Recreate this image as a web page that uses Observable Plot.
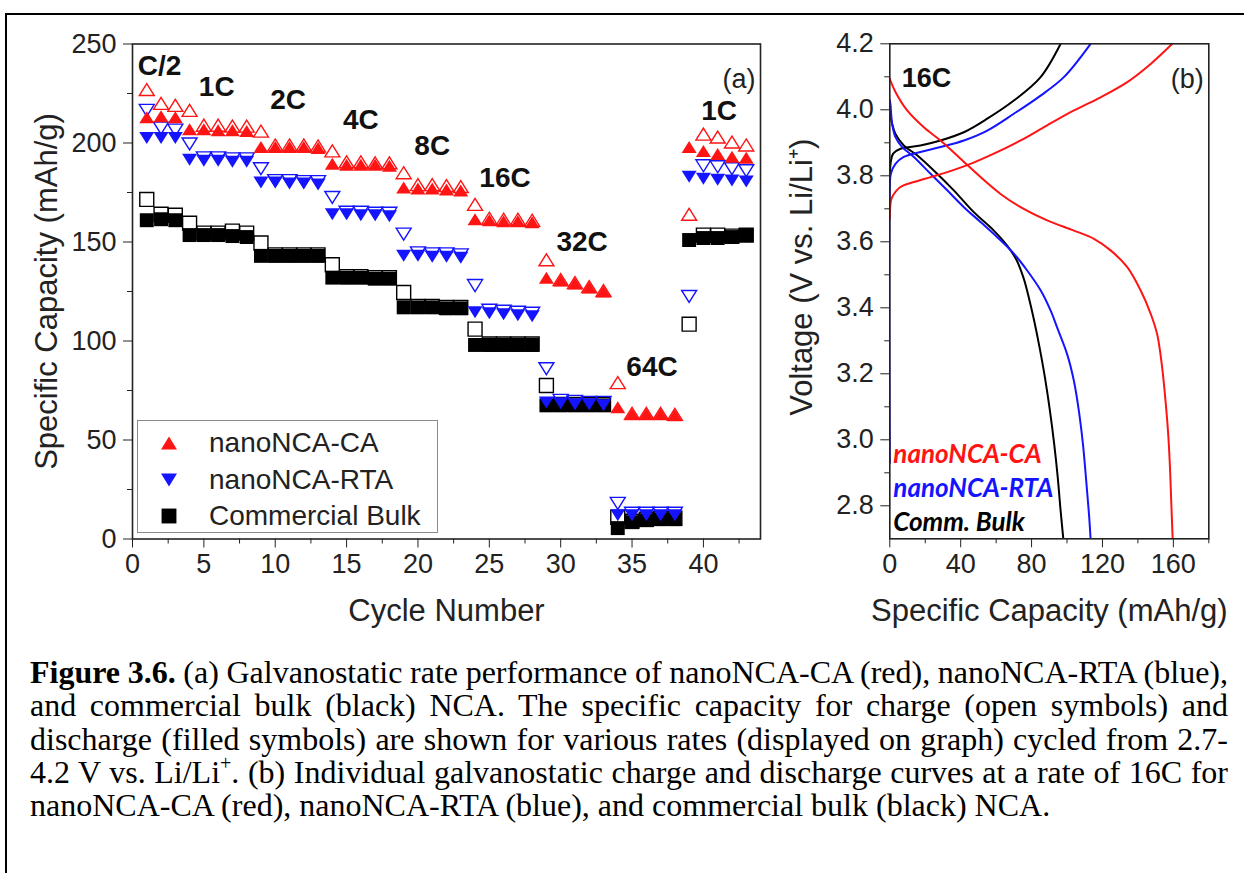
<!DOCTYPE html>
<html>
<head>
<meta charset="utf-8">
<script src="https://cdn.jsdelivr.net/npm/d3@7"></script>
<script src="https://cdn.jsdelivr.net/npm/@observablehq/plot@0.6"></script>
<style>
  html, body { margin: 0; padding: 0; background: #fff; }
  body { width: 1244px; height: 873px; position: relative; overflow: hidden;
         font-family: "Liberation Sans", Arial, sans-serif; }
  #border { position: absolute; left: 5px; top: 13px; right: -10px; bottom: -10px;
            border-top: 2px solid #000; border-left: 2px solid #000; }
  #panelA { position: absolute; left: 0; top: 0; }
  #panelB { position: absolute; left: 780px; top: 0; }
  #legend { position: absolute; left: 137px; top: 420px; width: 301px; height: 113px;
            border: 1.5px solid #8a8a8a; box-sizing: border-box; background: #fff; }
  #legend .row { position: absolute; left: 0; height: 30px; }
  #legend svg { position: absolute; left: 20px; top: 5px; }
  #legend span { position: absolute; left: 71px; top: 0; font-size: 28px; line-height: 30px;
                 color: #222; white-space: nowrap; }
  #caption { position: absolute; left: 30px; top: 656px; width: 1198px;
             font-family: "Liberation Serif", "Times New Roman", serif; font-size: 32px;
             line-height: 33.3px; color: #000; }
  #caption div { height: 33.3px; white-space: nowrap; }
  #caption .jl { display: inline-block; white-space: nowrap; }
  #caption sup { font-size: 20px; line-height: 0; position: relative; top: -13px; vertical-align: baseline; }
</style>
</head>
<body>
<div id="border"></div>
<div id="panelA"></div>
<div id="panelB"></div>
<div id="legend"></div>
<div id="caption">
  <div><span class="jl"><b>Figure 3.6.</b> (a) Galvanostatic rate performance of nanoNCA-CA (red), nanoNCA-RTA (blue),</span></div>
  <div><span class="jl">and commercial bulk (black) NCA. The specific capacity for charge (open symbols) and</span></div>
  <div><span class="jl">discharge (filled symbols) are shown for various rates (displayed on graph) cycled from 2.7-</span></div>
  <div><span class="jl">4.2 V vs. Li/Li<sup>+</sup>. (b) Individual galvanostatic charge and discharge curves at a rate of 16C for</span></div>
  <div><span>nanoNCA-CA (red), nanoNCA-RTA (blue), and commercial bulk (black) NCA.</span></div>
</div>
<script>
// ---------- (a) rate performance: capacity per cycle ----------
const cycle = [1, 2, 3, 4, 5, 6, 7, 8, 9, 10, 11, 12, 13, 14, 15, 16, 17, 18, 19, 20, 21, 22,
               23, 24, 25, 26, 27, 28, 29, 30, 31, 32, 33, 34, 35, 36, 37, 38, 39, 40, 41, 42, 43];

const caDischarge = [213, 213.5, 213, 207, 207, 206.5, 206.5, 206, 198, 198, 198, 198, 197.5,
  189.5, 189, 189, 189, 188.5, 177.5, 177, 177, 176.5, 176, 161.5, 161, 160.5, 160.5, 160,
  132, 130.5, 129, 127, 125, 66.5, 63, 63, 63, 62.5, 198, 196, 194.5, 193, 192.5];
const caCharge = [227, 220, 219, 216.5, 209, 209, 208.5, 208.5, 206, 199, 199, 199, 198.5,
  196, 190.5, 190.5, 190, 190, 185, 179, 179, 178.5, 178, 169, 162, 161.5, 161.5, 161,
  141, 131, 129.5, 127.5, 125.5, 79, 63.5, 63.5, 63.5, 63, 164, 204.5, 203, 200.5, 199];

const rtaDischarge = [202.5, 202.5, 202.5, 191.5, 191, 191, 190.5, 190.5, 180, 180, 179.5, 179.5, 179,
  164, 164, 163.5, 163.5, 163, 143, 143, 142.5, 142.5, 142, 114.5, 114, 113.5, 113, 112.5,
  69, 68.5, 68, 68, 67.5, 12, 12, 12, 12, 12, 183, 182, 181.5, 181, 180.5];
const rtaCharge = [216.5, 207.5, 206.5, 199.5, 192.5, 192.5, 192, 192, 187, 181, 181, 180.5, 180.5,
  172.5, 165, 165, 164.5, 164.5, 154, 144.5, 144, 144, 143.5, 128, 115.5, 115, 114.5, 114,
  86, 70, 69.5, 69, 69, 18, 13, 13, 13, 13, 122.5, 188.5, 188, 187, 186];

const bulkDischarge = [161, 161.5, 161, 153.5, 153.5, 153.5, 153, 152.5, 143, 143, 143, 143, 143,
  132, 132, 132, 131.5, 131.5, 117, 117, 117, 116.5, 116.5, 98, 98, 98, 98, 98,
  67.5, 67.5, 67.5, 67.5, 67.5, 5.5, 8.5, 9.5, 10, 10, 151, 152, 152, 152.5, 153.5];
const bulkCharge = [171.5, 164, 163.5, 159.5, 154.5, 154.5, 155.5, 154.5, 149.5, 143.5, 143.5, 143.5, 143.5,
  138.5, 132.5, 132.5, 132, 132, 124.5, 117.5, 117.5, 117, 117, 106, 98.5, 98.5, 98.5, 98.5,
  77.5, 68, 68, 68, 68, 11, 9, 10, 10.5, 10.5, 108.5, 153.5, 153.5, 153, 153.5];

// C-rate annotations (cycle, capacity at which each label sits)
const rateText  = ["C/2", "1C", "2C", "4C", "8C", "16C", "32C", "64C", "1C"];
const rateCycle = [1.9, 5.9, 10.9, 16.0, 21.0, 26.1, 31.5, 36.4, 41.1];
const rateCap   = [239, 228.5, 221.5, 211.5, 198.5, 182.5, 150, 87, 216];

const xMajorA = [0, 5, 10, 15, 20, 25, 30, 35, 40];
const xMinorA = [2.5, 7.5, 12.5, 17.5, 22.5, 27.5, 32.5, 37.5, 42.5];
const yMajorA = [0, 50, 100, 150, 200, 250];
const yMinorA = [25, 75, 125, 175, 225];

const seriesNames = ["nanoNCA-CA", "nanoNCA-RTA", "Commercial Bulk"];

// ---------- (b) 16C charge / discharge profiles ----------
const caDisCap = [0, 0.4, 3.2, 9.8, 19.2, 28.6, 39.9, 51.2, 62.5, 73.8, 88.8, 103.9, 115.2, 124.6,
  134, 141.5, 147.2, 150.9, 153.7, 155.6, 157.1, 158.1, 158.8, 159.6];
const caDisV = [4.095, 4.088, 4.054, 3.998, 3.947, 3.907, 3.852, 3.796, 3.745, 3.705, 3.665, 3.634,
  3.609, 3.574, 3.523, 3.453, 3.382, 3.319, 3.218, 3.117, 3.016, 2.915, 2.814, 2.7];
const caChgCap = [0, 0.5, 1.3, 6, 13.6, 23, 32.4, 45.5, 58.7, 73.8, 88.8, 103.9, 118.9, 134, 147.2, 159.4];
const caChgV = [3.67, 3.72, 3.735, 3.766, 3.781, 3.796, 3.811, 3.836, 3.867, 3.907, 3.953, 3.998,
  4.038, 4.084, 4.139, 4.2];

const rtaDisCap = [0, 0.4, 1.3, 3.2, 7, 13.6, 23, 32.4, 41.8, 51.2, 60.6, 70, 77.5, 85.1, 90.7,
  94.5, 100.1, 103.9, 106.7, 109, 111, 112.4, 113.3];
const rtaDisV = [4.03, 4.015, 3.958, 3.917, 3.887, 3.857, 3.806, 3.756, 3.705, 3.66, 3.614, 3.564,
  3.513, 3.453, 3.392, 3.339, 3.259, 3.178, 3.087, 2.986, 2.865, 2.774, 2.7];
const rtaChgCap = [0, 0, 0.6, 3.2, 7.9, 17.3, 28.6, 41.8, 55, 70, 85.1, 98.2, 113.3];
const rtaChgV = [2.93, 3.75, 3.806, 3.836, 3.857, 3.872, 3.887, 3.907, 3.937, 3.988, 4.043, 4.099, 4.2];

const bulkDisCap = [0, 0.4, 1.3, 3.2, 7.9, 15.4, 24.8, 36.1, 47.4, 58.7, 66, 71.5, 75.5, 78.5,
  81.5, 84.5, 87.5, 90.3, 92.7, 94.7, 96.3, 97.9];
const bulkDisV = [3.99, 3.98, 3.958, 3.927, 3.892, 3.862, 3.816, 3.756, 3.69, 3.634, 3.59, 3.545,
  3.49, 3.43, 3.36, 3.28, 3.19, 3.09, 2.99, 2.89, 2.79, 2.7];
const bulkChgCap = [0, 0.5, 1.9, 6, 17.3, 28.6, 41.8, 55, 70, 85.1, 96.4];
const bulkChgV = [3.78, 3.84, 3.867, 3.882, 3.892, 3.907, 3.932, 3.973, 4.028, 4.099, 4.2];

const bLabelText = ["nanoNCA-CA", "nanoNCA-RTA", "Comm. Bulk"];
const bLabelV = [2.955, 2.851, 2.749];

const xMajorB = [0, 40, 80, 120, 160];
const xMinorB = [20, 60, 100, 140, 180];
const yMajorB = [2.8, 3.0, 3.2, 3.4, 3.6, 3.8, 4.0, 4.2];
const yMinorB = [2.9, 3.1, 3.3, 3.5, 3.7, 3.9, 4.1];

// ---------- styling ----------
const RED = "#ff1414", BLUE = "#1414ff", BLACK = "#000";
const seriesColors = [RED, BLUE, BLACK];
const TXT = "#222";
const FONT = "'Liberation Sans', Arial, sans-serif";

// marker shapes (r = sqrt(size / π) as passed by Plot.dot)
const triUp = { draw(ctx, size) { const r = Math.sqrt(size / Math.PI), h = 0.8 * r;
  ctx.moveTo(0, -h); ctx.lineTo(r, h); ctx.lineTo(-r, h); ctx.closePath(); } };
const triDown = { draw(ctx, size) { const r = Math.sqrt(size / Math.PI), h = 0.8 * r;
  ctx.moveTo(0, h); ctx.lineTo(r, -h); ctx.lineTo(-r, -h); ctx.closePath(); } };
const square = { draw(ctx, size) { const r = Math.sqrt(size / Math.PI), s = 0.93 * r;
  ctx.rect(-s, -s, 2 * s, 2 * s); } };
const seriesSymbols = [triUp, triDown, square];
const R = 7.5;

const rows = cycle.map((c, i) => ({
  cycle: c,
  caD: caDischarge[i], caC: caCharge[i],
  rtaD: rtaDischarge[i], rtaC: rtaCharge[i],
  bulkD: bulkDischarge[i], bulkC: bulkCharge[i]
}));

const openDot = (y, symbol, color) => Plot.dot(rows, {x: "cycle", y, symbol, r: R,
  fill: "none", stroke: color, strokeWidth: 1.4});
const fullDot = (y, symbol, color) => Plot.dot(rows, {x: "cycle", y, symbol, r: R,
  fill: color, stroke: "none"});

const chartA = Plot.plot({
  width: 780, height: 640,
  marginLeft: 132, marginRight: 20, marginTop: 43.5, marginBottom: 101.5,
  x: {domain: [0, 44], label: null},
  y: {domain: [0, 250], label: null},
  style: {fontFamily: FONT, fontSize: "27px", color: TXT, background: "transparent", overflow: "visible"},
  marks: [
    Plot.axisX(xMajorA, {tickSize: 9, tickPadding: 6, label: null}),
    Plot.axisX(xMinorA, {tickSize: 5, tickFormat: () => "", label: null}),
    Plot.axisY(yMajorA, {tickSize: 9, tickPadding: 7, label: null}),
    Plot.axisY(yMinorA, {tickSize: 5, tickFormat: () => "", label: null}),
    Plot.frame({stroke: TXT, strokeWidth: 1.6}),
    openDot("bulkC", square, BLACK),
    fullDot("bulkD", square, BLACK),
    openDot("rtaC", triDown, BLUE),
    fullDot("rtaD", triDown, BLUE),
    openDot("caC", triUp, RED),
    fullDot("caD", triUp, RED),
    Plot.text(rateText, {x: (d, i) => rateCycle[i], y: (d, i) => rateCap[i], text: d => d,
      fontWeight: "bold", fontSize: 28, fill: "#111"}),
    Plot.text(["(a)"], {text: d => d, frameAnchor: "top-right", textAnchor: "end", dx: -5, dy: 25, fontSize: 27}),
    Plot.text(["Cycle Number"], {text: d => d, frameAnchor: "bottom", textAnchor: "middle", dy: 82, fontSize: 31}),
    Plot.text(["Specific Capacity (mAh/g)"], {text: d => d, frameAnchor: "left", textAnchor: "middle",
      dx: -85, rotate: -90, fontSize: 31})
  ]
});
document.getElementById("panelA").append(chartA);

const chartB = Plot.plot({
  width: 464, height: 640,
  marginLeft: 109.3, marginRight: 35.7, marginTop: 43.3, marginBottom: 101.7,
  x: {domain: [0, 180], label: null},
  y: {domain: [2.7, 4.2], label: null},
  style: {fontFamily: FONT, fontSize: "27px", color: TXT, background: "transparent", overflow: "visible"},
  marks: [
    Plot.axisX(xMajorB, {tickSize: 9, tickPadding: 6, label: null}),
    Plot.axisX(xMinorB, {tickSize: 5, tickFormat: () => "", label: null}),
    Plot.axisY(yMajorB, {tickSize: 9, tickPadding: 7, tickFormat: d3.format(".1f"), label: null}),
    Plot.axisY(yMinorB, {tickSize: 5, tickFormat: () => "", label: null}),
    Plot.line(bulkDisCap, {x: d => d, y: (d, i) => bulkDisV[i], stroke: BLACK, strokeWidth: 2, curve: "catmull-rom", clip: true}),
    Plot.line(bulkChgCap, {x: d => d, y: (d, i) => bulkChgV[i], stroke: BLACK, strokeWidth: 2, curve: "catmull-rom", clip: true}),
    Plot.line(rtaDisCap, {x: d => d, y: (d, i) => rtaDisV[i], stroke: BLUE, strokeWidth: 2, curve: "catmull-rom", clip: true}),
    Plot.line(rtaChgCap, {x: d => d, y: (d, i) => rtaChgV[i], stroke: BLUE, strokeWidth: 2, curve: "catmull-rom", clip: true}),
    Plot.line(caDisCap, {x: d => d, y: (d, i) => caDisV[i], stroke: RED, strokeWidth: 2, curve: "catmull-rom", clip: true}),
    Plot.line(caChgCap, {x: d => d, y: (d, i) => caChgV[i], stroke: RED, strokeWidth: 2, curve: "catmull-rom", clip: true}),
    Plot.frame({stroke: TXT, strokeWidth: 1.6}),
    Plot.text(bLabelText, {x: 2, y: (d, i) => bLabelV[i], text: d => d, textAnchor: "start",
      fill: (d, i) => seriesColors[i], fontFamily: "Lato, 'Open Sans', sans-serif",
      fontStyle: "italic", fontWeight: "bold", fontSize: 26}),
    Plot.text(["16C"], {text: d => d, frameAnchor: "top-left", textAnchor: "start", dx: 12, dy: 24,
      fontWeight: "bold", fontSize: 27, fill: "#111"}),
    Plot.text(["(b)"], {text: d => d, frameAnchor: "top-right", textAnchor: "end", dx: -5, dy: 25, fontSize: 27}),
    Plot.text(["Specific Capacity (mAh/g)"], {text: d => d, frameAnchor: "bottom", textAnchor: "middle", dy: 82, fontSize: 31}),
    Plot.text(["Voltage (V vs. Li/Li\u207A)"], {text: d => d, frameAnchor: "left", textAnchor: "middle",
      dx: -88, dy: -14, rotate: -90, fontSize: 31})
  ]
});
document.getElementById("panelB").append(chartB);

// ---------- legend for panel (a) ----------
const legend = d3.select("#legend");
seriesNames.forEach((name, i) => {
  const row = legend.append("div").attr("class", "row").style("top", (7 + i * 36.5) + "px");
  const svg = row.append("svg").attr("width", 22).attr("height", 20);
  svg.append("path")
    .attr("transform", "translate(11,10)")
    .attr("d", d3.symbol(seriesSymbols[i], Math.PI * 8 * 8)())
    .attr("fill", seriesColors[i]);
  row.append("span").text(name);
});

// ---------- justified caption lines ----------
function justifyCaption() {
  document.querySelectorAll("#caption .jl").forEach(line => {
    line.style.wordSpacing = "0px";
    const w = line.getBoundingClientRect().width;
    const spaces = (line.textContent.match(/ /g) || []).length;
    if (spaces) line.style.wordSpacing = ((1198 - w) / spaces) + "px";
  });
}
justifyCaption();
if (document.fonts && document.fonts.ready) document.fonts.ready.then(justifyCaption);
</script>
</body>
</html>
